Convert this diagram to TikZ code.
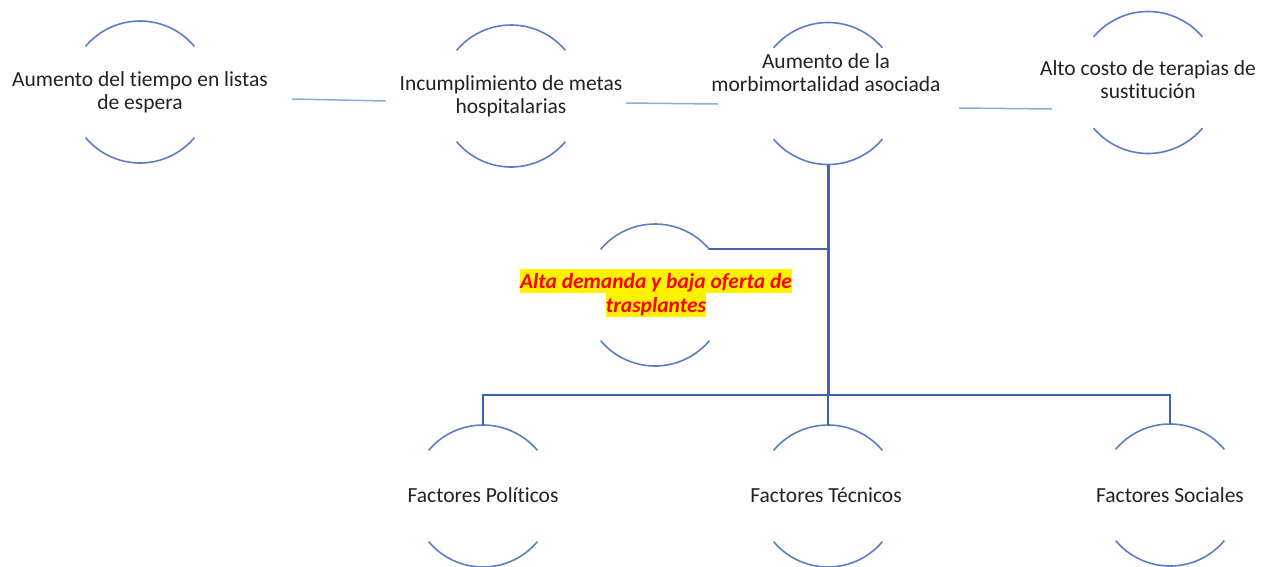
\documentclass[tikz,border=0pt]{standalone}
\usepackage{fontspec}
\setmainfont{Carlito}[Ligatures=NoCommon]
\usepackage{tikz}
\usetikzlibrary{positioning, calc}
\usepackage{xcolor}

\definecolor{ringblue}{HTML}{5B7EC2}
\definecolor{trunkblue}{HTML}{3F63AE}
\definecolor{linkblue}{HTML}{8FAADC}
\definecolor{textgray}{HTML}{222222}

% top and bottom arcs of a ring node
\newcommand{\ringarcs}[1]{%
  \draw[ringline] (#1.40) arc[start angle=40, end angle=140, radius=71pt];
  \draw[ringline] (#1.220) arc[start angle=220, end angle=320, radius=71pt];}
% yellow highlight of one line
\newcommand{\hilite}[1]{{\setlength{\fboxsep}{0pt}\colorbox{yellow}{\rule[-5pt]{0pt}{24pt}#1}}}

\begin{document}
\begin{tikzpicture}[
    x=1pt, y=1pt,
    ring/.style={circle, minimum size=142pt, inner sep=0pt, outer sep=0pt},
    ringline/.style={ringblue, line width=1.6pt},
    txt/.style={align=center, inner sep=0pt, text=textgray,
                font=\fontsize{21.5}{23}\selectfont},
    hot/.style={align=center, inner sep=0pt, text=red,
                font=\fontsize{21.5}{24}\selectfont\bfseries\itshape},
    link/.style={linkblue, line width=1.5pt},
    trunk/.style={trunkblue, line width=3pt},
    bar/.style={trunkblue, line width=2pt},
]
\useasboundingbox (0,0) rectangle (1270,-566);

% Top row
\node[ring] (tiempo) at (140,-92)   {};
\node[ring] (metas)  at (511,-96)   {};
\node[ring] (morbi)  at (828,-93.5) {};
\node[ring] (costo)  at (1148,-82.5){};

\node[txt] (tiempo-t) at (tiempo) {Aumento del tiempo en listas\\de espera};
\node[txt] (metas-t)  at (metas)  {Incumplimiento de metas\\hospitalarias};
\node[txt] (morbi-t)  at (826,-73) {Aumento de la\\morbimortalidad asociada};
\node[txt] (costo-t)  at (1148,-80) {Alto costo de terapias de\\sustitución};

% Central problem
\node[ring] (oferta)   at (655,-295) {};
\node[hot]  (oferta-t) at (656,-293)
     {\hilite{Alta demanda y baja oferta de}\\\hilite{trasplantes}};

% Bottom row
\node[ring] (politicos) at (483,-496)  {};
\node[ring] (tecnicos)  at (828,-496)  {};
\node[ring] (sociales)  at (1170,-495) {};

\node[txt] (politicos-t) at (483,-495)  {Factores Políticos};
\node[txt] (tecnicos-t)  at (826,-495)  {Factores Técnicos};
\node[txt] (sociales-t)  at (1170,-495) {Factores Sociales};

% Arcs
\foreach \n in {tiempo, metas, morbi, costo, oferta, politicos, tecnicos, sociales}
  {\ringarcs{\n}}

% Top row links
\draw[link] ([shift={(81,-7)}]tiempo.east) -- ([shift={(-54,-5)}]metas.west);
\draw[link] ([shift={(44,-7)}]metas.east)  -- ([shift={(-39,-10.5)}]morbi.west);
\draw[link] ([shift={(60,-14.5)}]morbi.east) -- ([shift={(-25,-26.5)}]costo.west);

% Trunk and branches
\coordinate (hub) at ($(morbi.south |- 0,-395)$);
\draw[trunk] (morbi.south) -- (hub);
\draw[bar] (oferta.40) -- (oferta.40 -| hub);
\draw[bar] (politicos.north) -- (politicos.north |- hub) -| (sociales.north);
\draw[bar] (hub) -- (tecnicos.north);

\end{tikzpicture}
\end{document}
